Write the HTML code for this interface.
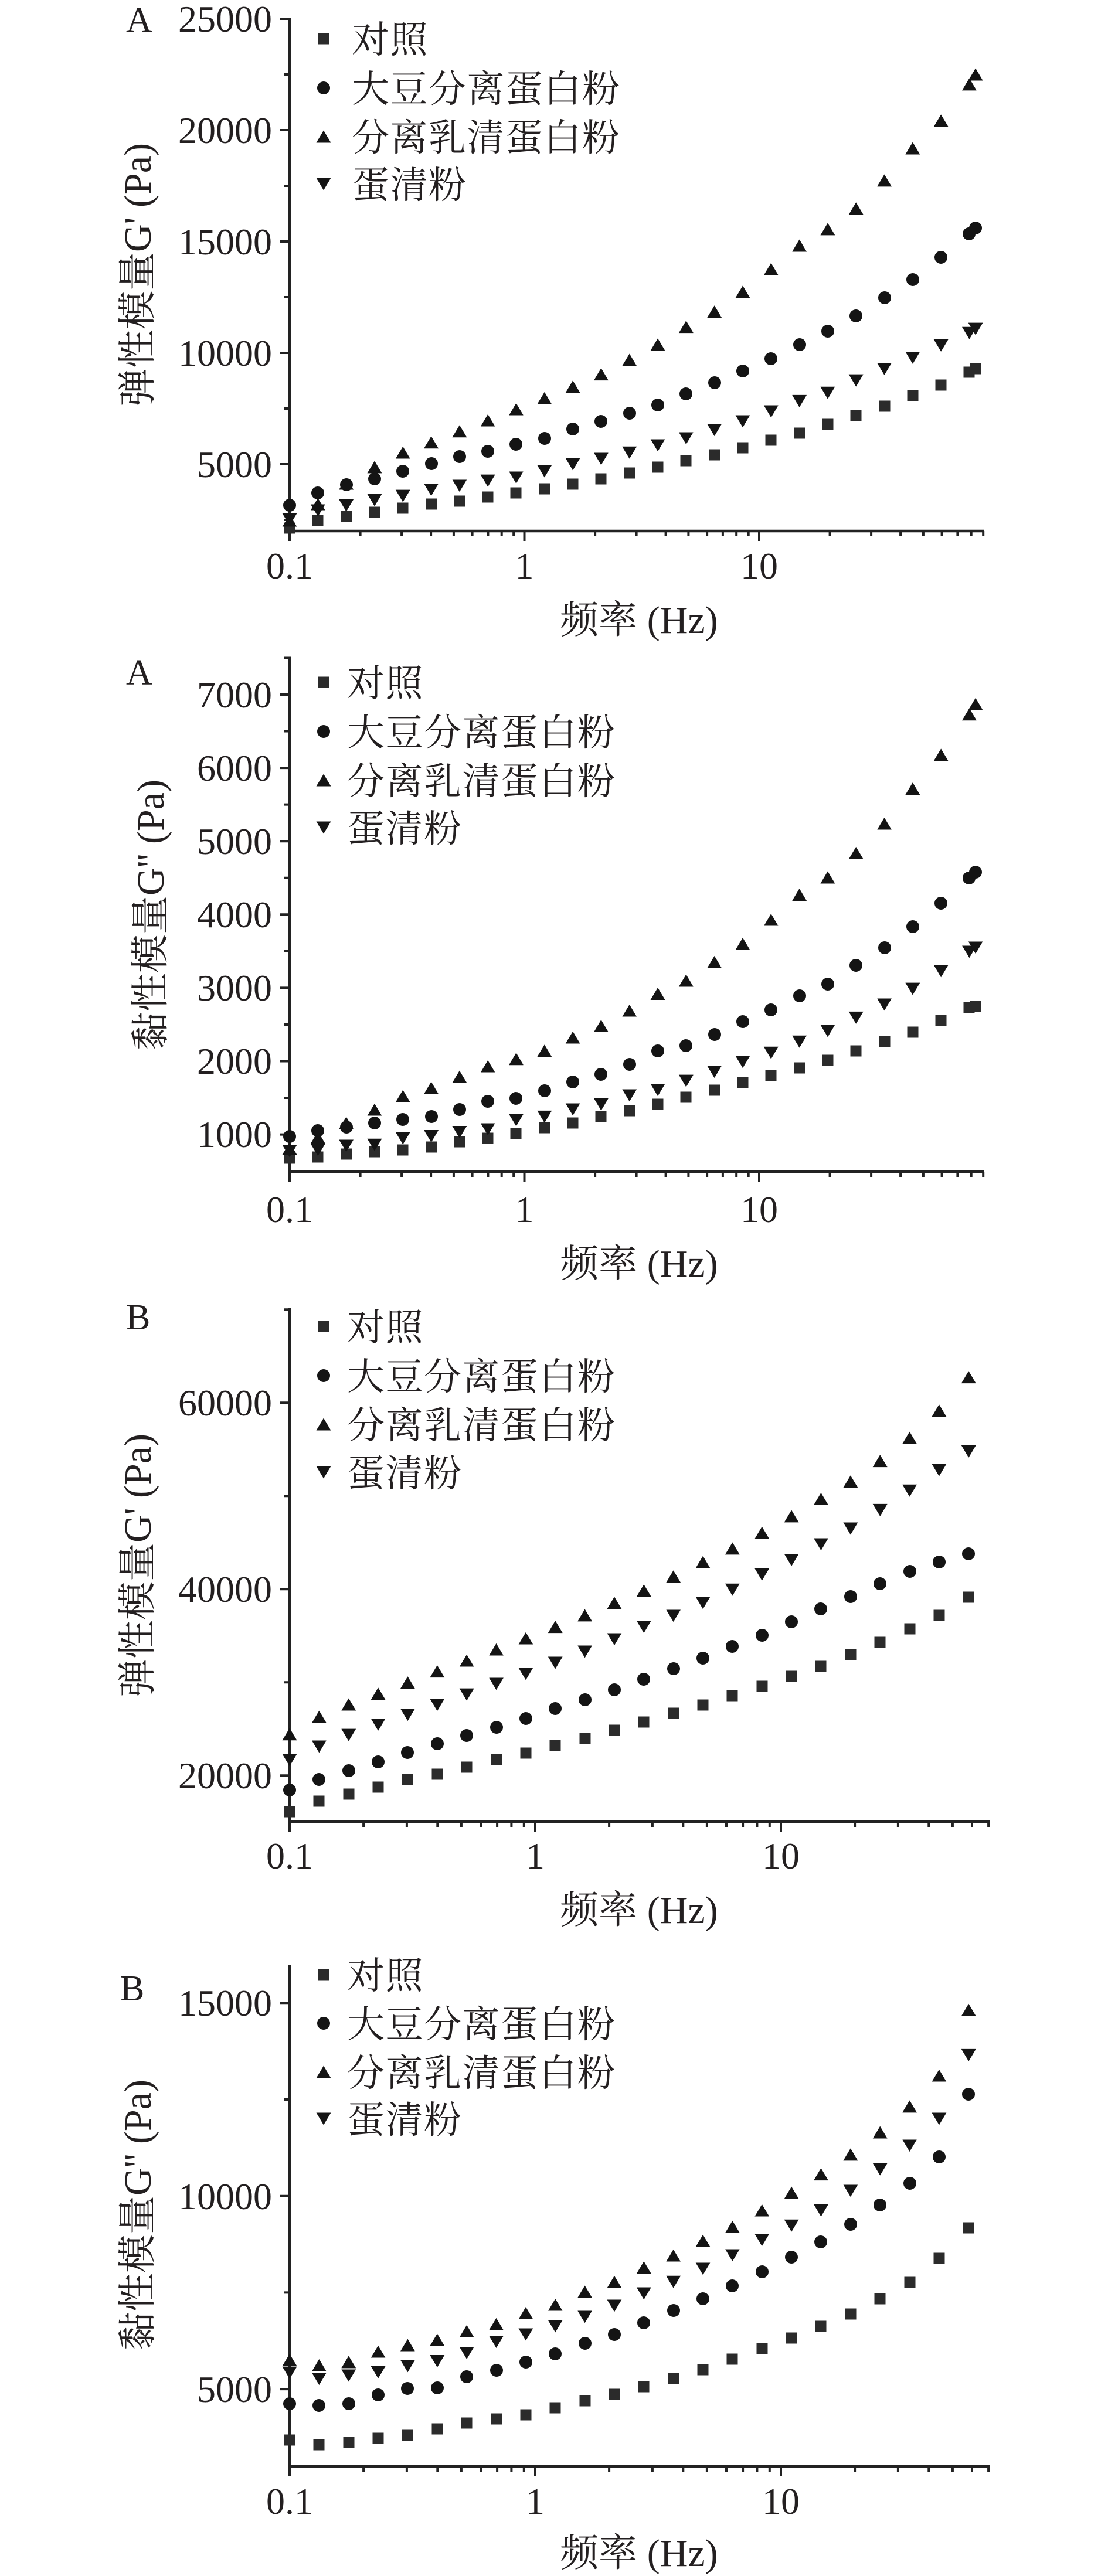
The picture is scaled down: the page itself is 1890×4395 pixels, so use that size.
<!DOCTYPE html>
<html>
<head>
<meta charset="utf-8">
<style>
html,body{margin:0;padding:0;background:#fff;}
body{position:relative;width:1890px;height:4395px;overflow:hidden;}
svg{position:absolute;left:0;top:0;}
.m{position:absolute;transform:translate(-50%,-50%);left:calc(494px + var(--i) * var(--dx));top:calc(var(--b) + (var(--y) - var(--p0)) * var(--k));}
.l{position:absolute;transform:translate(-50%,-50%);left:552px;}
.s{width:19px;height:19px;background:#2b2b2b;}
.c{width:22px;height:22px;border-radius:50%;background:#141414;}
.u{width:25px;height:21px;background:#141414;clip-path:polygon(50% 0,100% 100%,0 100%);}
.d{width:25px;height:21px;background:#141414;clip-path:polygon(0 0,100% 0,50% 100%);}
.p1{--dx:48.31px;--b:32px;--p0:48;--k:0.7037px;}
.p2{--dx:48.31px;--b:1185px;--p0:122;--k:0.7042px;}
.p3{--dx:50.36px;--b:2393.3px;--p0:277;--k:0.7041px;}
.p4{--dx:50.36px;--b:3417.3px;--p0:173;--k:0.7009px;}
</style>
</head>
<body>
<svg width="1890" height="4395" viewBox="0 0 1890 4395" xmlns="http://www.w3.org/2000/svg">
<g stroke="#222" fill="none">
<!-- Panel 1 -->
<path stroke-width="4.5" d="M494 30V923M492 906H1679"/>
<path stroke-width="4" d="M477 32H494M477 222H494M477 412H494M477 602H494M477 792H494M485 127H494M485 317H494M485 507H494M485 697H494M485 887H494M894.5 906V923M1295 906V923M614.6 906V915M685.1 906V915M735.1 906V915M773.9 906V915M805.6 906V915M832.4 906V915M855.7 906V915M876.2 906V915M1015.1 906V915M1085.6 906V915M1135.6 906V915M1174.4 906V915M1206.1 906V915M1232.9 906V915M1256.2 906V915M1276.7 906V915M1415.6 906V915M1486.1 906V915M1536.1 906V915M1574.9 906V915M1606.6 906V915M1633.4 906V915M1656.7 906V915M1677.2 906V915"/>
<!-- Panel 2 -->
<path stroke-width="4.5" d="M494 1120.5V2016M492 1999H1679"/>
<path stroke-width="4" d="M477 1185H494M477 1310.1H494M477 1435.2H494M477 1560.3H494M477 1685.4H494M477 1810.5H494M477 1935.6H494M485 1122.5H494M485 1247.5H494M485 1372.6H494M485 1497.7H494M485 1622.8H494M485 1748H494M485 1873H494M894.5 1999V2016M1295 1999V2016M614.6 1999V2008M685.1 1999V2008M735.1 1999V2008M773.9 1999V2008M805.6 1999V2008M832.4 1999V2008M855.7 1999V2008M876.2 1999V2008M1015.1 1999V2008M1085.6 1999V2008M1135.6 1999V2008M1174.4 1999V2008M1206.1 1999V2008M1232.9 1999V2008M1256.2 1999V2008M1276.7 1999V2008M1415.6 1999V2008M1486.1 1999V2008M1536.1 1999V2008M1574.9 1999V2008M1606.6 1999V2008M1633.4 1999V2008M1656.7 1999V2008M1677.2 1999V2008"/>
<!-- Panel 3 -->
<path stroke-width="4.5" d="M494 2232V3125M492 3108H1688"/>
<path stroke-width="4" d="M477 2393.3H494M477 2711.3H494M477 3029.3H494M485 2234.3H494M485 2552.3H494M485 2870.3H494M913 3108V3125M1332 3108V3125M620.1 3108V3117M693.9 3108V3117M746.3 3108V3117M786.9 3108V3117M820 3108V3117M848.1 3108V3117M872.4 3108V3117M893.8 3108V3117M1039.1 3108V3117M1112.9 3108V3117M1165.3 3108V3117M1205.9 3108V3117M1239 3108V3117M1267.1 3108V3117M1291.4 3108V3117M1312.8 3108V3117M1458.1 3108V3117M1531.9 3108V3117M1584.3 3108V3117M1624.9 3108V3117M1658 3108V3117M1686.1 3108V3117"/>
<!-- Panel 4 -->
<path stroke-width="4.5" d="M494 3352.7V4225M492 4208H1688"/>
<path stroke-width="4" d="M477 3417.3H494M477 3746.7H494M477 4076.1H494M485 3582H494M485 3911.4H494M913 4208V4225M1332 4208V4225M620.1 4208V4217M693.9 4208V4217M746.3 4208V4217M786.9 4208V4217M820 4208V4217M848.1 4208V4217M872.4 4208V4217M893.8 4208V4217M1039.1 4208V4217M1112.9 4208V4217M1165.3 4208V4217M1205.9 4208V4217M1239 4208V4217M1267.1 4208V4217M1291.4 4208V4217M1312.8 4208V4217M1458.1 4208V4217M1531.9 4208V4217M1584.3 4208V4217M1624.9 4208V4217M1658 4208V4217M1686.1 4208V4217"/>
</g>

<g fill="#231f20" font-family="'Liberation Serif','Noto Serif CJK SC',serif">
<!-- Panel 1 text -->
<text x="215" y="55" font-size="62">A</text>
<g font-size="64" text-anchor="end">
<text x="464" y="54">25000</text><text x="464" y="244">20000</text><text x="464" y="434">15000</text><text x="464" y="624">10000</text><text x="464" y="814">5000</text>
</g>
<g font-size="64" text-anchor="middle">
<text x="494" y="987">0.1</text><text x="894.5" y="987">1</text><text x="1295" y="987">10</text>
</g>
<text x="1090" y="1080" font-size="66" text-anchor="middle">频率 (Hz)</text>
<text transform="translate(257,469) rotate(-90)" font-size="66" text-anchor="middle">弹性模量G' (Pa)</text>
<g font-size="64" letter-spacing="1.5" font-family="'Noto Serif CJK SC','Liberation Serif',serif">
<text x="600" y="90">对照</text><text x="600" y="174">大豆分离蛋白粉</text><text x="600" y="257">分离乳清蛋白粉</text><text x="600" y="338">蛋清粉</text>
</g>

<!-- Panel 2 text -->
<text x="215" y="1168" font-size="62">A</text>
<g font-size="64" text-anchor="end">
<text x="464" y="1207">7000</text><text x="464" y="1332">6000</text><text x="464" y="1457">5000</text><text x="464" y="1582">4000</text><text x="464" y="1707">3000</text><text x="464" y="1832">2000</text><text x="464" y="1957">1000</text>
</g>
<g font-size="64" text-anchor="middle">
<text x="494" y="2085">0.1</text><text x="894.5" y="2085">1</text><text x="1295" y="2085">10</text>
</g>
<text x="1090" y="2178" font-size="66" text-anchor="middle">频率 (Hz)</text>
<text transform="translate(279,1561) rotate(-90)" font-size="66" text-anchor="middle">黏性模量G'' (Pa)</text>
<g font-size="64" letter-spacing="1.5" font-family="'Noto Serif CJK SC','Liberation Serif',serif">
<text x="592" y="1188">对照</text><text x="592" y="1272">大豆分离蛋白粉</text><text x="592" y="1355">分离乳清蛋白粉</text><text x="592" y="1436">蛋清粉</text>
</g>

<!-- Panel 3 text -->
<text x="215" y="2268" font-size="62">B</text>
<g font-size="64" text-anchor="end">
<text x="464" y="2415">60000</text><text x="464" y="2733">40000</text><text x="464" y="3051">20000</text>
</g>
<g font-size="64" text-anchor="middle">
<text x="494" y="3188">0.1</text><text x="913" y="3188">1</text><text x="1332" y="3188">10</text>
</g>
<text x="1090" y="3281" font-size="66" text-anchor="middle">频率 (Hz)</text>
<text transform="translate(257,2671) rotate(-90)" font-size="66" text-anchor="middle">弹性模量G' (Pa)</text>
<g font-size="64" letter-spacing="1.5" font-family="'Noto Serif CJK SC','Liberation Serif',serif">
<text x="592" y="2287">对照</text><text x="592" y="2371">大豆分离蛋白粉</text><text x="592" y="2454">分离乳清蛋白粉</text><text x="592" y="2536">蛋清粉</text>
</g>

<!-- Panel 4 text -->
<text x="205" y="3413" font-size="62">B</text>
<g font-size="64" text-anchor="end">
<text x="464" y="3439">15000</text><text x="464" y="3769">10000</text><text x="464" y="4098">5000</text>
</g>
<g font-size="64" text-anchor="middle">
<text x="494" y="4289">0.1</text><text x="913" y="4289">1</text><text x="1332" y="4289">10</text>
</g>
<text x="1090" y="4378" font-size="66" text-anchor="middle">频率 (Hz)</text>
<text transform="translate(257,3779) rotate(-90)" font-size="66" text-anchor="middle">黏性模量G'' (Pa)</text>
<g font-size="64" letter-spacing="1.5" font-family="'Noto Serif CJK SC','Liberation Serif',serif">
<text x="592" y="3393">对照</text><text x="592" y="3476">大豆分离蛋白粉</text><text x="592" y="3559">分离乳清蛋白粉</text><text x="592" y="3639">蛋清粉</text>
</g>
</g>
</svg>

<!-- Legend markers -->
<i class="l s" style="top:66px"></i><i class="l c" style="top:150px"></i><i class="l u" style="top:233px"></i><i class="l d" style="top:314px"></i>
<i class="l s" style="top:1164px"></i><i class="l c" style="top:1248px"></i><i class="l u" style="top:1331px"></i><i class="l d" style="top:1412px"></i>
<i class="l s" style="top:2263px"></i><i class="l c" style="top:2347px"></i><i class="l u" style="top:2430px"></i><i class="l d" style="top:2512px"></i>
<i class="l s" style="top:3369px"></i><i class="l c" style="top:3452px"></i><i class="l u" style="top:3535px"></i><i class="l d" style="top:3615px"></i>

<!-- Panel 1 data -->
<div class="p1">
<i class="m s" style="--i:0;--y:1283"></i><i class="m s" style="--i:1;--y:1265"></i><i class="m s" style="--i:2;--y:1255"></i><i class="m s" style="--i:3;--y:1245"></i><i class="m s" style="--i:4;--y:1235"></i><i class="m s" style="--i:5;--y:1225"></i><i class="m s" style="--i:6;--y:1217"></i><i class="m s" style="--i:7;--y:1207"></i><i class="m s" style="--i:8;--y:1197"></i><i class="m s" style="--i:9;--y:1187"></i><i class="m s" style="--i:10;--y:1177"></i><i class="m s" style="--i:11;--y:1163"></i><i class="m s" style="--i:12;--y:1150"></i><i class="m s" style="--i:13;--y:1135"></i><i class="m s" style="--i:14;--y:1120"></i><i class="m s" style="--i:15;--y:1105"></i><i class="m s" style="--i:16;--y:1088"></i><i class="m s" style="--i:17;--y:1070"></i><i class="m s" style="--i:18;--y:1052"></i><i class="m s" style="--i:19;--y:1032"></i><i class="m s" style="--i:20;--y:1010"></i><i class="m s" style="--i:21;--y:987"></i><i class="m s" style="--i:22;--y:962"></i><i class="m s" style="--i:23;--y:936"></i><i class="m s" style="--i:24;--y:905"></i><i class="m s" style="--i:24.22;--y:897"></i>
<i class="m c" style="--i:0;--y:1228"></i><i class="m c" style="--i:1;--y:1198"></i><i class="m c" style="--i:2;--y:1178"></i><i class="m c" style="--i:3;--y:1163"></i><i class="m c" style="--i:4;--y:1145"></i><i class="m c" style="--i:5;--y:1127"></i><i class="m c" style="--i:6;--y:1110"></i><i class="m c" style="--i:7;--y:1097"></i><i class="m c" style="--i:8;--y:1080"></i><i class="m c" style="--i:9;--y:1065"></i><i class="m c" style="--i:10;--y:1043"></i><i class="m c" style="--i:11;--y:1024"></i><i class="m c" style="--i:12;--y:1005"></i><i class="m c" style="--i:13;--y:985"></i><i class="m c" style="--i:14;--y:958"></i><i class="m c" style="--i:15;--y:930"></i><i class="m c" style="--i:16;--y:902"></i><i class="m c" style="--i:17;--y:872"></i><i class="m c" style="--i:18;--y:838"></i><i class="m c" style="--i:19;--y:805"></i><i class="m c" style="--i:20;--y:768"></i><i class="m c" style="--i:21;--y:725"></i><i class="m c" style="--i:22;--y:680"></i><i class="m c" style="--i:23;--y:627"></i><i class="m c" style="--i:24;--y:570"></i><i class="m c" style="--i:24.22;--y:555"></i>
<i class="m u" style="--i:0;--y:1265"></i><i class="m u" style="--i:1;--y:1225"></i><i class="m u" style="--i:2;--y:1175"></i><i class="m u" style="--i:3;--y:1135"></i><i class="m u" style="--i:4;--y:1100"></i><i class="m u" style="--i:5;--y:1075"></i><i class="m u" style="--i:6;--y:1048"></i><i class="m u" style="--i:7;--y:1022"></i><i class="m u" style="--i:8;--y:995"></i><i class="m u" style="--i:9;--y:968"></i><i class="m u" style="--i:10;--y:940"></i><i class="m u" style="--i:11;--y:910"></i><i class="m u" style="--i:12;--y:875"></i><i class="m u" style="--i:13;--y:838"></i><i class="m u" style="--i:14;--y:795"></i><i class="m u" style="--i:15;--y:758"></i><i class="m u" style="--i:16;--y:710"></i><i class="m u" style="--i:17;--y:655"></i><i class="m u" style="--i:18;--y:598"></i><i class="m u" style="--i:19;--y:558"></i><i class="m u" style="--i:20;--y:508"></i><i class="m u" style="--i:21;--y:440"></i><i class="m u" style="--i:22;--y:362"></i><i class="m u" style="--i:23;--y:295"></i><i class="m u" style="--i:24;--y:207"></i><i class="m u" style="--i:24.22;--y:183"></i>
<i class="m d" style="--i:0;--y:1262"></i><i class="m d" style="--i:1;--y:1240"></i><i class="m d" style="--i:2;--y:1228"></i><i class="m d" style="--i:3;--y:1215"></i><i class="m d" style="--i:4;--y:1205"></i><i class="m d" style="--i:5;--y:1190"></i><i class="m d" style="--i:6;--y:1180"></i><i class="m d" style="--i:7;--y:1168"></i><i class="m d" style="--i:8;--y:1160"></i><i class="m d" style="--i:9;--y:1145"></i><i class="m d" style="--i:10;--y:1128"></i><i class="m d" style="--i:11;--y:1115"></i><i class="m d" style="--i:12;--y:1100"></i><i class="m d" style="--i:13;--y:1082"></i><i class="m d" style="--i:14;--y:1065"></i><i class="m d" style="--i:15;--y:1045"></i><i class="m d" style="--i:16;--y:1024"></i><i class="m d" style="--i:17;--y:1000"></i><i class="m d" style="--i:18;--y:975"></i><i class="m d" style="--i:19;--y:955"></i><i class="m d" style="--i:20;--y:925"></i><i class="m d" style="--i:21;--y:897"></i><i class="m d" style="--i:22;--y:870"></i><i class="m d" style="--i:23;--y:840"></i><i class="m d" style="--i:24;--y:810"></i><i class="m d" style="--i:24.22;--y:800"></i>
</div>

<!-- Panel 2 data -->
<div class="p2">
<i class="m s" style="--i:0;--y:1245"></i><i class="m s" style="--i:1;--y:1242"></i><i class="m s" style="--i:2;--y:1235"></i><i class="m s" style="--i:3;--y:1230"></i><i class="m s" style="--i:4;--y:1225"></i><i class="m s" style="--i:5;--y:1218"></i><i class="m s" style="--i:6;--y:1205"></i><i class="m s" style="--i:7;--y:1197"></i><i class="m s" style="--i:8;--y:1185"></i><i class="m s" style="--i:9;--y:1172"></i><i class="m s" style="--i:10;--y:1160"></i><i class="m s" style="--i:11;--y:1145"></i><i class="m s" style="--i:12;--y:1130"></i><i class="m s" style="--i:13;--y:1115"></i><i class="m s" style="--i:14;--y:1097"></i><i class="m s" style="--i:15;--y:1080"></i><i class="m s" style="--i:16;--y:1062"></i><i class="m s" style="--i:17;--y:1045"></i><i class="m s" style="--i:18;--y:1027"></i><i class="m s" style="--i:19;--y:1008"></i><i class="m s" style="--i:20;--y:985"></i><i class="m s" style="--i:21;--y:962"></i><i class="m s" style="--i:22;--y:940"></i><i class="m s" style="--i:23;--y:912"></i><i class="m s" style="--i:24;--y:880"></i><i class="m s" style="--i:24.22;--y:878"></i>
<i class="m c" style="--i:0;--y:1193"></i><i class="m c" style="--i:1;--y:1178"></i><i class="m c" style="--i:2;--y:1170"></i><i class="m c" style="--i:3;--y:1160"></i><i class="m c" style="--i:4;--y:1152"></i><i class="m c" style="--i:5;--y:1145"></i><i class="m c" style="--i:6;--y:1128"></i><i class="m c" style="--i:7;--y:1108"></i><i class="m c" style="--i:8;--y:1100"></i><i class="m c" style="--i:9;--y:1082"></i><i class="m c" style="--i:10;--y:1060"></i><i class="m c" style="--i:11;--y:1042"></i><i class="m c" style="--i:12;--y:1018"></i><i class="m c" style="--i:13;--y:985"></i><i class="m c" style="--i:14;--y:972"></i><i class="m c" style="--i:15;--y:946"></i><i class="m c" style="--i:16;--y:915"></i><i class="m c" style="--i:17;--y:886"></i><i class="m c" style="--i:18;--y:852"></i><i class="m c" style="--i:19;--y:823"></i><i class="m c" style="--i:20;--y:778"></i><i class="m c" style="--i:21;--y:735"></i><i class="m c" style="--i:22;--y:685"></i><i class="m c" style="--i:23;--y:627"></i><i class="m c" style="--i:24;--y:567"></i><i class="m c" style="--i:24.22;--y:552"></i>
<i class="m u" style="--i:0;--y:1222"></i><i class="m u" style="--i:1;--y:1195"></i><i class="m u" style="--i:2;--y:1160"></i><i class="m u" style="--i:3;--y:1128"></i><i class="m u" style="--i:4;--y:1095"></i><i class="m u" style="--i:5;--y:1075"></i><i class="m u" style="--i:6;--y:1048"></i><i class="m u" style="--i:7;--y:1023"></i><i class="m u" style="--i:8;--y:1005"></i><i class="m u" style="--i:9;--y:985"></i><i class="m u" style="--i:10;--y:953"></i><i class="m u" style="--i:11;--y:925"></i><i class="m u" style="--i:12;--y:888"></i><i class="m u" style="--i:13;--y:847"></i><i class="m u" style="--i:14;--y:815"></i><i class="m u" style="--i:15;--y:770"></i><i class="m u" style="--i:16;--y:726"></i><i class="m u" style="--i:17;--y:668"></i><i class="m u" style="--i:18;--y:607"></i><i class="m u" style="--i:19;--y:565"></i><i class="m u" style="--i:20;--y:506"></i><i class="m u" style="--i:21;--y:435"></i><i class="m u" style="--i:22;--y:350"></i><i class="m u" style="--i:23;--y:268"></i><i class="m u" style="--i:24;--y:170"></i><i class="m u" style="--i:24.22;--y:145"></i>
<i class="m d" style="--i:0;--y:1228"></i><i class="m d" style="--i:1;--y:1225"></i><i class="m d" style="--i:2;--y:1215"></i><i class="m d" style="--i:3;--y:1213"></i><i class="m d" style="--i:4;--y:1197"></i><i class="m d" style="--i:5;--y:1192"></i><i class="m d" style="--i:6;--y:1182"></i><i class="m d" style="--i:7;--y:1175"></i><i class="m d" style="--i:8;--y:1153"></i><i class="m d" style="--i:9;--y:1145"></i><i class="m d" style="--i:10;--y:1127"></i><i class="m d" style="--i:11;--y:1115"></i><i class="m d" style="--i:12;--y:1093"></i><i class="m d" style="--i:13;--y:1080"></i><i class="m d" style="--i:14;--y:1058"></i><i class="m d" style="--i:15;--y:1036"></i><i class="m d" style="--i:16;--y:1012"></i><i class="m d" style="--i:17;--y:990"></i><i class="m d" style="--i:18;--y:963"></i><i class="m d" style="--i:19;--y:937"></i><i class="m d" style="--i:20;--y:905"></i><i class="m d" style="--i:21;--y:873"></i><i class="m d" style="--i:22;--y:835"></i><i class="m d" style="--i:23;--y:792"></i><i class="m d" style="--i:24;--y:745"></i><i class="m d" style="--i:24.22;--y:735"></i>
</div>

<!-- Panel 3 data -->
<div class="p3">
<i class="m s" style="--i:0;--y:1268"></i><i class="m s" style="--i:1;--y:1243"></i><i class="m s" style="--i:2;--y:1225"></i><i class="m s" style="--i:3;--y:1208"></i><i class="m s" style="--i:4;--y:1190"></i><i class="m s" style="--i:5;--y:1177"></i><i class="m s" style="--i:6;--y:1160"></i><i class="m s" style="--i:7;--y:1142"></i><i class="m s" style="--i:8;--y:1126"></i><i class="m s" style="--i:9;--y:1108"></i><i class="m s" style="--i:10;--y:1090"></i><i class="m s" style="--i:11;--y:1070"></i><i class="m s" style="--i:12;--y:1051"></i><i class="m s" style="--i:13;--y:1030"></i><i class="m s" style="--i:14;--y:1010"></i><i class="m s" style="--i:15;--y:987"></i><i class="m s" style="--i:16;--y:964"></i><i class="m s" style="--i:17;--y:940"></i><i class="m s" style="--i:18;--y:915"></i><i class="m s" style="--i:19;--y:887"></i><i class="m s" style="--i:20;--y:857"></i><i class="m s" style="--i:21;--y:825"></i><i class="m s" style="--i:22;--y:792"></i><i class="m s" style="--i:23;--y:748"></i>
<i class="m c" style="--i:0;--y:1215"></i><i class="m c" style="--i:1;--y:1190"></i><i class="m c" style="--i:2;--y:1168"></i><i class="m c" style="--i:3;--y:1147"></i><i class="m c" style="--i:4;--y:1125"></i><i class="m c" style="--i:5;--y:1103"></i><i class="m c" style="--i:6;--y:1083"></i><i class="m c" style="--i:7;--y:1063"></i><i class="m c" style="--i:8;--y:1042"></i><i class="m c" style="--i:9;--y:1018"></i><i class="m c" style="--i:10;--y:996"></i><i class="m c" style="--i:11;--y:972"></i><i class="m c" style="--i:12;--y:947"></i><i class="m c" style="--i:13;--y:921"></i><i class="m c" style="--i:14;--y:896"></i><i class="m c" style="--i:15;--y:868"></i><i class="m c" style="--i:16;--y:840"></i><i class="m c" style="--i:17;--y:808"></i><i class="m c" style="--i:18;--y:777"></i><i class="m c" style="--i:19;--y:747"></i><i class="m c" style="--i:20;--y:716"></i><i class="m c" style="--i:21;--y:686"></i><i class="m c" style="--i:22;--y:663"></i><i class="m c" style="--i:23;--y:643"></i>
<i class="m u" style="--i:0;--y:1080"></i><i class="m u" style="--i:1;--y:1038"></i><i class="m u" style="--i:2;--y:1008"></i><i class="m u" style="--i:3;--y:982"></i><i class="m u" style="--i:4;--y:955"></i><i class="m u" style="--i:5;--y:928"></i><i class="m u" style="--i:6;--y:902"></i><i class="m u" style="--i:7;--y:875"></i><i class="m u" style="--i:8;--y:848"></i><i class="m u" style="--i:9;--y:820"></i><i class="m u" style="--i:10;--y:792"></i><i class="m u" style="--i:11;--y:762"></i><i class="m u" style="--i:12;--y:732"></i><i class="m u" style="--i:13;--y:698"></i><i class="m u" style="--i:14;--y:663"></i><i class="m u" style="--i:15;--y:630"></i><i class="m u" style="--i:16;--y:592"></i><i class="m u" style="--i:17;--y:552"></i><i class="m u" style="--i:18;--y:510"></i><i class="m u" style="--i:19;--y:468"></i><i class="m u" style="--i:20;--y:418"></i><i class="m u" style="--i:21;--y:362"></i><i class="m u" style="--i:22;--y:296"></i><i class="m u" style="--i:23;--y:215"></i>
<i class="m d" style="--i:0;--y:1143"></i><i class="m d" style="--i:1;--y:1110"></i><i class="m d" style="--i:2;--y:1082"></i><i class="m d" style="--i:3;--y:1057"></i><i class="m d" style="--i:4;--y:1033"></i><i class="m d" style="--i:5;--y:1009"></i><i class="m d" style="--i:6;--y:984"></i><i class="m d" style="--i:7;--y:958"></i><i class="m d" style="--i:8;--y:934"></i><i class="m d" style="--i:9;--y:907"></i><i class="m d" style="--i:10;--y:880"></i><i class="m d" style="--i:11;--y:850"></i><i class="m d" style="--i:12;--y:820"></i><i class="m d" style="--i:13;--y:793"></i><i class="m d" style="--i:14;--y:762"></i><i class="m d" style="--i:15;--y:730"></i><i class="m d" style="--i:16;--y:693"></i><i class="m d" style="--i:17;--y:658"></i><i class="m d" style="--i:18;--y:620"></i><i class="m d" style="--i:19;--y:582"></i><i class="m d" style="--i:20;--y:537"></i><i class="m d" style="--i:21;--y:490"></i><i class="m d" style="--i:22;--y:440"></i><i class="m d" style="--i:23;--y:395"></i>
</div>

<!-- Panel 4 data -->
<div class="p4">
<i class="m s" style="--i:0;--y:1237"></i><i class="m s" style="--i:1;--y:1248"></i><i class="m s" style="--i:2;--y:1242"></i><i class="m s" style="--i:3;--y:1233"></i><i class="m s" style="--i:4;--y:1225"></i><i class="m s" style="--i:5;--y:1210"></i><i class="m s" style="--i:6;--y:1195"></i><i class="m s" style="--i:7;--y:1185"></i><i class="m s" style="--i:8;--y:1175"></i><i class="m s" style="--i:9;--y:1158"></i><i class="m s" style="--i:10;--y:1142"></i><i class="m s" style="--i:11;--y:1125"></i><i class="m s" style="--i:12;--y:1107"></i><i class="m s" style="--i:13;--y:1087"></i><i class="m s" style="--i:14;--y:1065"></i><i class="m s" style="--i:15;--y:1040"></i><i class="m s" style="--i:16;--y:1015"></i><i class="m s" style="--i:17;--y:988"></i><i class="m s" style="--i:18;--y:960"></i><i class="m s" style="--i:19;--y:930"></i><i class="m s" style="--i:20;--y:893"></i><i class="m s" style="--i:21;--y:853"></i><i class="m s" style="--i:22;--y:795"></i><i class="m s" style="--i:23;--y:720"></i>
<i class="m c" style="--i:0;--y:1148"></i><i class="m c" style="--i:1;--y:1153"></i><i class="m c" style="--i:2;--y:1148"></i><i class="m c" style="--i:3;--y:1127"></i><i class="m c" style="--i:4;--y:1112"></i><i class="m c" style="--i:5;--y:1110"></i><i class="m c" style="--i:6;--y:1083"></i><i class="m c" style="--i:7;--y:1067"></i><i class="m c" style="--i:8;--y:1047"></i><i class="m c" style="--i:9;--y:1027"></i><i class="m c" style="--i:10;--y:1002"></i><i class="m c" style="--i:11;--y:980"></i><i class="m c" style="--i:12;--y:952"></i><i class="m c" style="--i:13;--y:922"></i><i class="m c" style="--i:14;--y:893"></i><i class="m c" style="--i:15;--y:862"></i><i class="m c" style="--i:16;--y:828"></i><i class="m c" style="--i:17;--y:792"></i><i class="m c" style="--i:18;--y:755"></i><i class="m c" style="--i:19;--y:712"></i><i class="m c" style="--i:20;--y:665"></i><i class="m c" style="--i:21;--y:612"></i><i class="m c" style="--i:22;--y:548"></i><i class="m c" style="--i:23;--y:395"></i>
<i class="m u" style="--i:0;--y:1042"></i><i class="m u" style="--i:1;--y:1055"></i><i class="m u" style="--i:2;--y:1047"></i><i class="m u" style="--i:3;--y:1022"></i><i class="m u" style="--i:4;--y:1006"></i><i class="m u" style="--i:5;--y:993"></i><i class="m u" style="--i:6;--y:972"></i><i class="m u" style="--i:7;--y:955"></i><i class="m u" style="--i:8;--y:928"></i><i class="m u" style="--i:9;--y:908"></i><i class="m u" style="--i:10;--y:876"></i><i class="m u" style="--i:11;--y:852"></i><i class="m u" style="--i:12;--y:817"></i><i class="m u" style="--i:13;--y:788"></i><i class="m u" style="--i:14;--y:752"></i><i class="m u" style="--i:15;--y:718"></i><i class="m u" style="--i:16;--y:678"></i><i class="m u" style="--i:17;--y:635"></i><i class="m u" style="--i:18;--y:590"></i><i class="m u" style="--i:19;--y:542"></i><i class="m u" style="--i:20;--y:488"></i><i class="m u" style="--i:21;--y:425"></i><i class="m u" style="--i:22;--y:350"></i><i class="m u" style="--i:23;--y:190"></i>
<i class="m d" style="--i:0;--y:1073"></i><i class="m d" style="--i:1;--y:1088"></i><i class="m d" style="--i:2;--y:1080"></i><i class="m d" style="--i:3;--y:1072"></i><i class="m d" style="--i:4;--y:1057"></i><i class="m d" style="--i:5;--y:1045"></i><i class="m d" style="--i:6;--y:1025"></i><i class="m d" style="--i:7;--y:998"></i><i class="m d" style="--i:8;--y:980"></i><i class="m d" style="--i:9;--y:960"></i><i class="m d" style="--i:10;--y:937"></i><i class="m d" style="--i:11;--y:910"></i><i class="m d" style="--i:12;--y:880"></i><i class="m d" style="--i:13;--y:852"></i><i class="m d" style="--i:14;--y:820"></i><i class="m d" style="--i:15;--y:787"></i><i class="m d" style="--i:16;--y:750"></i><i class="m d" style="--i:17;--y:715"></i><i class="m d" style="--i:18;--y:678"></i><i class="m d" style="--i:19;--y:630"></i><i class="m d" style="--i:20;--y:578"></i><i class="m d" style="--i:21;--y:520"></i><i class="m d" style="--i:22;--y:455"></i><i class="m d" style="--i:23;--y:300"></i>
</div>
</body>
</html>
